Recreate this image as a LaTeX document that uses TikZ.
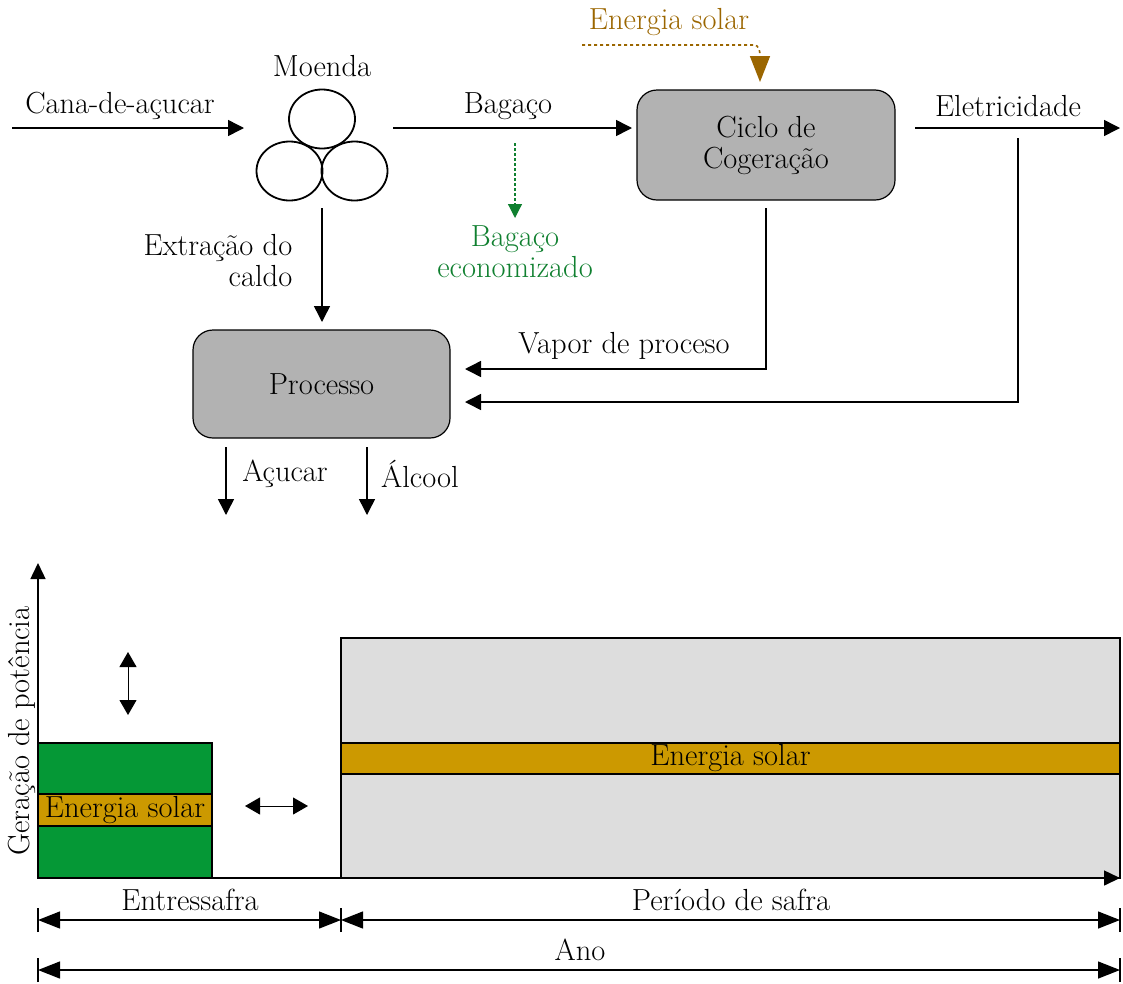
\documentclass[tikz,border=0pt]{standalone}
\usetikzlibrary{arrows.meta,shapes.geometric}
\definecolor{boxgray}{RGB}{178,178,178}
\definecolor{pale}{RGB}{221,221,221}
\definecolor{leafgreen}{RGB}{5,152,54}
\definecolor{gold}{RGB}{204,153,0}
\definecolor{solarbrown}{RGB}{155,102,0}
\definecolor{savedgreen}{RGB}{16,128,48}
\begin{document}
\begin{tikzpicture}[x=1pt,y=-1pt,
  font=\fontsize{30.5}{31}\selectfont,
  line width=1.5pt,
  flow/.style={-{Triangle[length=16pt,width=16pt]}},
  twoway/.style={line width=1pt,{Triangle[length=15pt,width=17pt]}-{Triangle[length=15pt,width=17pt]}},
  dimline/.style={line width=1.3pt,{Triangle[length=22pt,width=17pt]}-{Triangle[length=22pt,width=17pt]}},
  stage/.style={draw, rounded corners=20pt, fill=boxgray, line width=1.2pt, align=center},
  roll/.style={draw, ellipse, minimum width=66pt, minimum height=59pt, inner sep=0pt, line width=1.8pt},
  lbl/.style={inner sep=0pt},
  band/.style={draw, fill=gold, line width=1.2pt, inner sep=0pt},
]
\useasboundingbox (0,0) rectangle (1123,983);

% ---------- process flow ----------
\node[lbl] (moenda) at (322,66) {Moenda};
\node[roll] (rtop)   at (322,119) {};
\node[roll] (rleft)  at (289.5,171) {};
\node[roll] (rright) at (354.5,171) {};

\node[stage, minimum width=258pt, minimum height=110pt] (ciclo) at (766,145) {Ciclo de\\Cogeração};
\node[stage, minimum width=257pt, minimum height=108pt] (proc) at (321.5,384) {Processo};

% cane input
\node[lbl] (cana) at (120,106) {Cana-de-açucar};
\coordinate (caneIn) at (12,128);
\coordinate (caneOut) at (244,128);
\draw[flow] (caneIn) -- (caneOut);

% bagasse to cogeneration
\node[lbl] (bagaco) at (508,106) {Bagaço};
\coordinate (bagIn) at (393,128);
\coordinate (bagOut) at (632,128);
\draw[flow] (bagIn) -- (bagOut);

% saved bagasse
\coordinate (saveIn) at (515,143);
\coordinate (saveOut) at (515,218);
\draw[savedgreen, dash pattern=on 2.5pt off 2.5pt, line width=1.2pt, -{Triangle[length=14pt,width=14pt]}] (saveIn) -- (saveOut);
\node[lbl, text=savedgreen, align=center] (saved) at (515,252) {Bagaço\\economizado};

% solar input to the cycle
\node[lbl, text=solarbrown] (solartop) at (669,22) {Energia solar};
\coordinate (solarIn) at (582,45);
\coordinate (solarBend) at (754,45);
\coordinate (solarTip) at (760,82);
\draw[solarbrown, dash pattern=on 3pt off 3pt, line width=1.6pt] (solarIn) -- (solarBend) to[out=0,in=90] (760,56);
\draw[solarbrown, line width=1.6pt, -{Triangle[length=26pt,width=20pt]}] (760,56) -- (solarTip);

% electricity
\node[lbl] (eletr) at (1008,106) {Eletricidade};
\coordinate (elIn) at (915,128);
\coordinate (elOut) at (1120,128);
\draw[flow] (elIn) -- (elOut);
\coordinate (elTap) at (1018,138);
\coordinate (elCorner) at (1018,402);
\coordinate (elEnd) at (465,402);
\draw[flow] (elTap) -- (elCorner) -- (elEnd);

% process steam
\coordinate (vapIn) at (766,208);
\coordinate (vapCorner) at (766,369);
\coordinate (vapEnd) at (465,369);
\draw[flow] (vapIn) -- (vapCorner) -- (vapEnd);
\node[lbl] (vapor) at (624,346) {Vapor de proceso};

% juice extraction
\coordinate (juiceIn) at (322,208);
\coordinate (juiceOut) at (322,322);
\draw[flow] (juiceIn) -- (juiceOut);
\node[lbl, anchor=east, align=right] (extr) at (293,261) {Extração do\\caldo};

% products
\coordinate (sugIn) at (226,447);
\coordinate (sugOut) at (226,515);
\coordinate (alcIn) at (367,447);
\coordinate (alcOut) at (367,515);
\draw[flow] (sugIn) -- (sugOut);
\draw[flow] (alcIn) -- (alcOut);
\node[lbl] (acucar) at (285,474) {Açucar};
\node[lbl] (alcool) at (420,474) {Álcool};

% ---------- generation over the year ----------
\draw[fill=pale, line width=1.2pt] (341,638) rectangle (1120,878);
\node[band, minimum width=779pt, minimum height=31pt] (bandsafra) at (730.5,758.5) {Energia solar};
\draw[fill=leafgreen, line width=1.2pt] (38,743) rectangle (212,878);
\node[band, minimum width=174pt, minimum height=32pt] (bandentre) at (125,810) {Energia solar};

\coordinate (origin) at (38,878);
\coordinate (ytop) at (38,563);
\coordinate (xend) at (1120,878);
\draw[line width=1.5pt, -{Triangle[length=16pt,width=15pt]}] (origin) -- (ytop);
\draw[line width=1.5pt, -{Triangle[length=16pt,width=15pt]}] (origin) -- (xend);
\node[lbl, rotate=90] (ylab) at (22,731) {Geração de potência};

\coordinate (vA) at (128,652);
\coordinate (vB) at (128,715);
\coordinate (hA) at (245,806);
\coordinate (hB) at (308,806);
\draw[twoway] (vA) -- (vB);
\draw[twoway] (hA) -- (hB);

% period dimensions
\coordinate (d1) at (38,920);
\coordinate (d2) at (341,920);
\coordinate (d3) at (1120,920);
\coordinate (a1) at (38,970);
\coordinate (a2) at (1120,970);
\foreach \p in {d1,d2,d3,a1,a2}
  \draw[line width=1.3pt] ([yshift=-12pt]\p) -- ([yshift=12pt]\p);
\draw[dimline] (d1) -- (d2);
\draw[dimline] (d2) -- (d3);
\draw[dimline] (a1) -- (a2);
\node[lbl] (entre) at (190,900) {Entressafra};
\node[lbl] (safra) at (731,900) {Período de safra};
\node[lbl] (ano) at (580,950) {Ano};
\end{tikzpicture}
\end{document}
